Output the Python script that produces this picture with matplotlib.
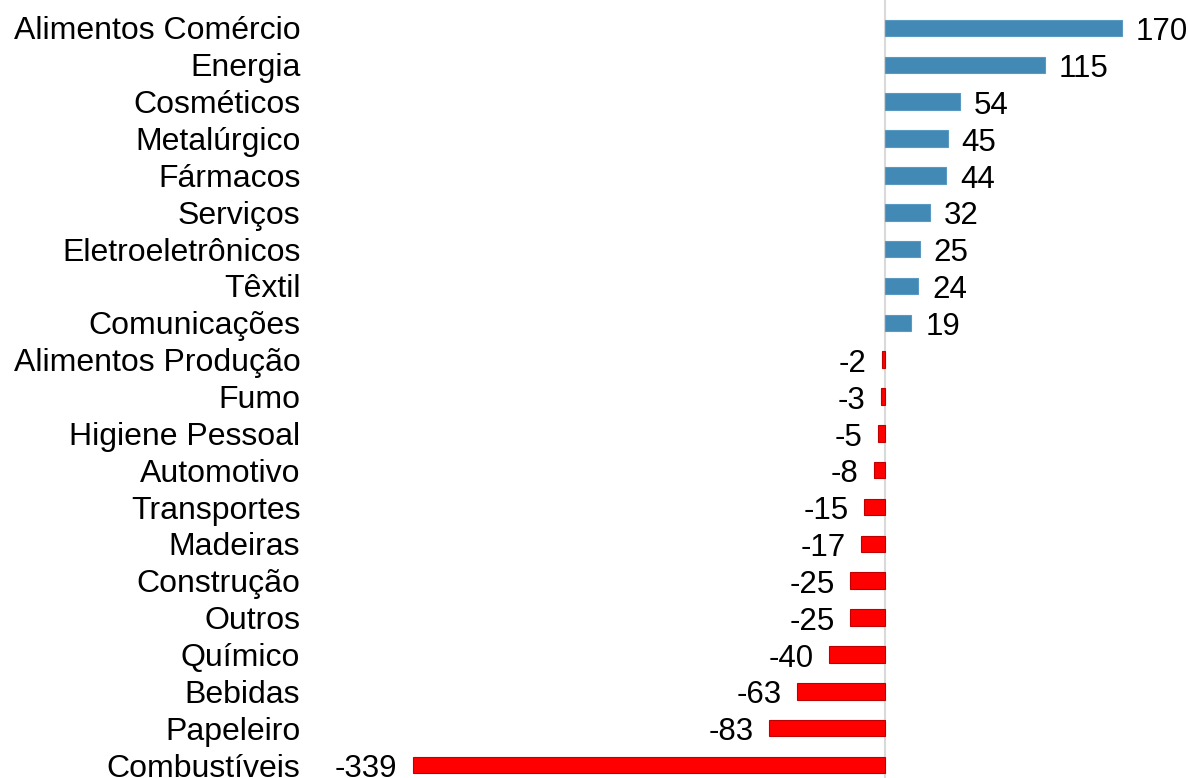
import matplotlib

matplotlib.use("Agg")
import matplotlib.pyplot as plt

categories = [
    "Alimentos Comércio", "Energia", "Cosméticos", "Metalúrgico", "Fármacos",
    "Serviços", "Eletroeletrônicos", "Têxtil", "Comunicações",
    "Alimentos Produção", "Fumo", "Higiene Pessoal", "Automotivo",
    "Transportes", "Madeiras", "Construção", "Outros", "Químico",
    "Bebidas", "Papeleiro", "Combustíveis",
]
values = [170, 115, 54, 45, 44, 32, 25, 24, 19,
          -2, -3, -5, -8, -15, -17, -25, -25, -40, -63, -83, -339]

plt.rcParams["font.family"] = ["Liberation Sans", "DejaVu Sans"]

fig = plt.figure(figsize=(11.88, 7.78), dpi=100)
ax = fig.add_axes([310 / 1188, 0, 1 - 310 / 1188, 1])

pos_color = "#4289B5"
neg_color = "#FF0000"
colors = [pos_color if v >= 0 else neg_color for v in values]
edges = ["#5A9AC2" if v >= 0 else "#C00000" for v in values]
ypos = list(range(len(categories)))

ax.barh(ypos, values, height=0.45, color=colors, edgecolor=edges, linewidth=0.8)

for y, v in zip(ypos, values):
    if v >= 0:
        ax.annotate(str(v), (v, y), xytext=(10, -3), textcoords="offset points",
                    ha="left", va="center", fontsize=22.5, color="black")
    else:
        ax.annotate(str(v), (v, y), xytext=(-11, -3), textcoords="offset points",
                    ha="right", va="center", fontsize=22.5, color="black")

scale = 1.393
ax.set_xlim(-(885 - 310) / scale, (1188 - 885) / scale)
ax.set_ylim(20 + 13 / 36.85, -28 / 36.85)
ax.set_yticks(ypos)
ax.set_yticklabels(categories, fontsize=23)
ax.tick_params(axis="y", length=0, pad=7)
ax.set_xticks([])

for name, spine in ax.spines.items():
    spine.set_visible(False)
ax.axvline(0, color="#D9D9D9", linewidth=1.5, zorder=0)

fig.savefig("out.png", dpi=100)
